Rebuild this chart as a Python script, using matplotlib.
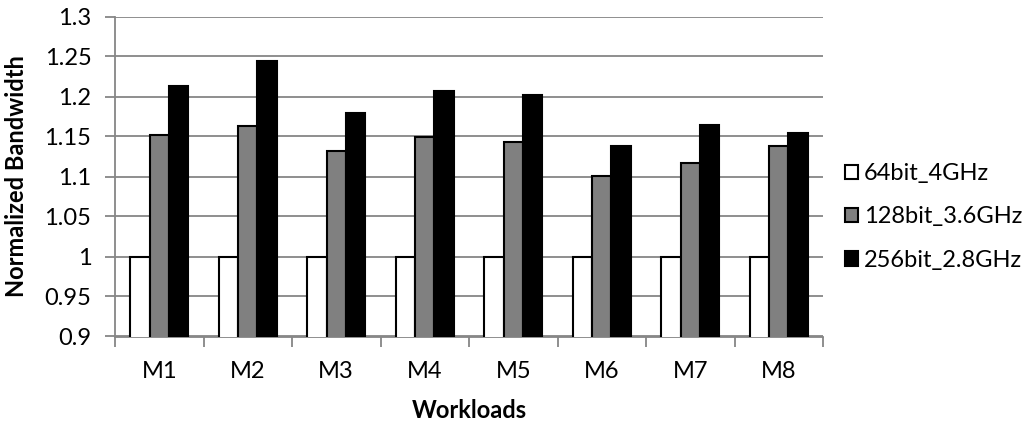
import numpy as np
import matplotlib
matplotlib.use('Agg')
import matplotlib.pyplot as plt

plt.rcParams['font.family'] = ['Lato', 'DejaVu Sans']

workloads = ['M1', 'M2', 'M3', 'M4', 'M5', 'M6', 'M7', 'M8']
series_names = ['64bit_4GHz', '128bit_3.6GHz', '256bit_2.8GHz']
bw_64 = [1.0, 1.0, 1.0, 1.0, 1.0, 1.0, 1.0, 1.0]
bw_128 = [1.152, 1.163, 1.132, 1.149, 1.143, 1.101, 1.117, 1.138]
bw_256 = [1.213, 1.245, 1.179, 1.207, 1.202, 1.138, 1.164, 1.154]
colors = ['white', '#808080', 'black']

fig = plt.figure(figsize=(10.33, 4.25), dpi=100)
ax = fig.add_axes([115 / 1033, (425 - 336.5) / 425, (823 - 115) / 1033, 320 / 425])

x = np.arange(len(workloads))
width = 0.22
for i, (vals, name, c) in enumerate(zip([bw_64, bw_128, bw_256], series_names, colors)):
    ax.bar(x + (i - 1) * width, vals, width, bottom=0, color=c, edgecolor='black',
           linewidth=1.5, label=name, zorder=3)

ax.set_ylim(0.9, 1.3)
ax.set_xlim(-0.5, len(workloads) - 0.5)
ax.set_yticks(np.arange(0.9, 1.301, 0.05))
ax.set_yticklabels(['0.9', '0.95', '1', '1.05', '1.1', '1.15', '1.2', '1.25', '1.3'])
ax.yaxis.grid(True, color='#868686', linewidth=1.3, zorder=0)

ax.set_xticks(x)
ax.set_xticklabels(workloads)
ax.set_xticks(np.arange(-0.5, len(workloads)), minor=True)
ax.tick_params(axis='x', which='major', length=0, pad=18, labelsize=17)
ax.tick_params(axis='x', which='minor', length=7, width=1.3, color='#868686')
ax.tick_params(axis='y', length=7, width=1.3, color='#868686', labelsize=17, pad=10)

for side in ['top', 'right']:
    ax.spines[side].set_visible(False)
for side in ['left', 'bottom']:
    ax.spines[side].set_color('#868686')
    ax.spines[side].set_linewidth(1.3)

ax.set_xlabel('Workloads', fontsize=17, fontweight='bold', va='center')
ax.xaxis.set_label_coords(0.5, (336.5 - 411) / 320)
ax.set_ylabel('Normalized Bandwidth', fontsize=17, fontweight='bold', va='center')
ax.yaxis.set_label_coords((17 - 115) / 708, 0.5)

fig.legend(loc='center left', bbox_to_anchor=(845 / 1033, 1 - 217 / 425), frameon=False,
           fontsize=17, handlelength=0.55, handleheight=0.55, handletextpad=0.25,
           labelspacing=0.95, borderpad=0, borderaxespad=0)

plt.savefig('out.png', dpi=100)
plt.close()
